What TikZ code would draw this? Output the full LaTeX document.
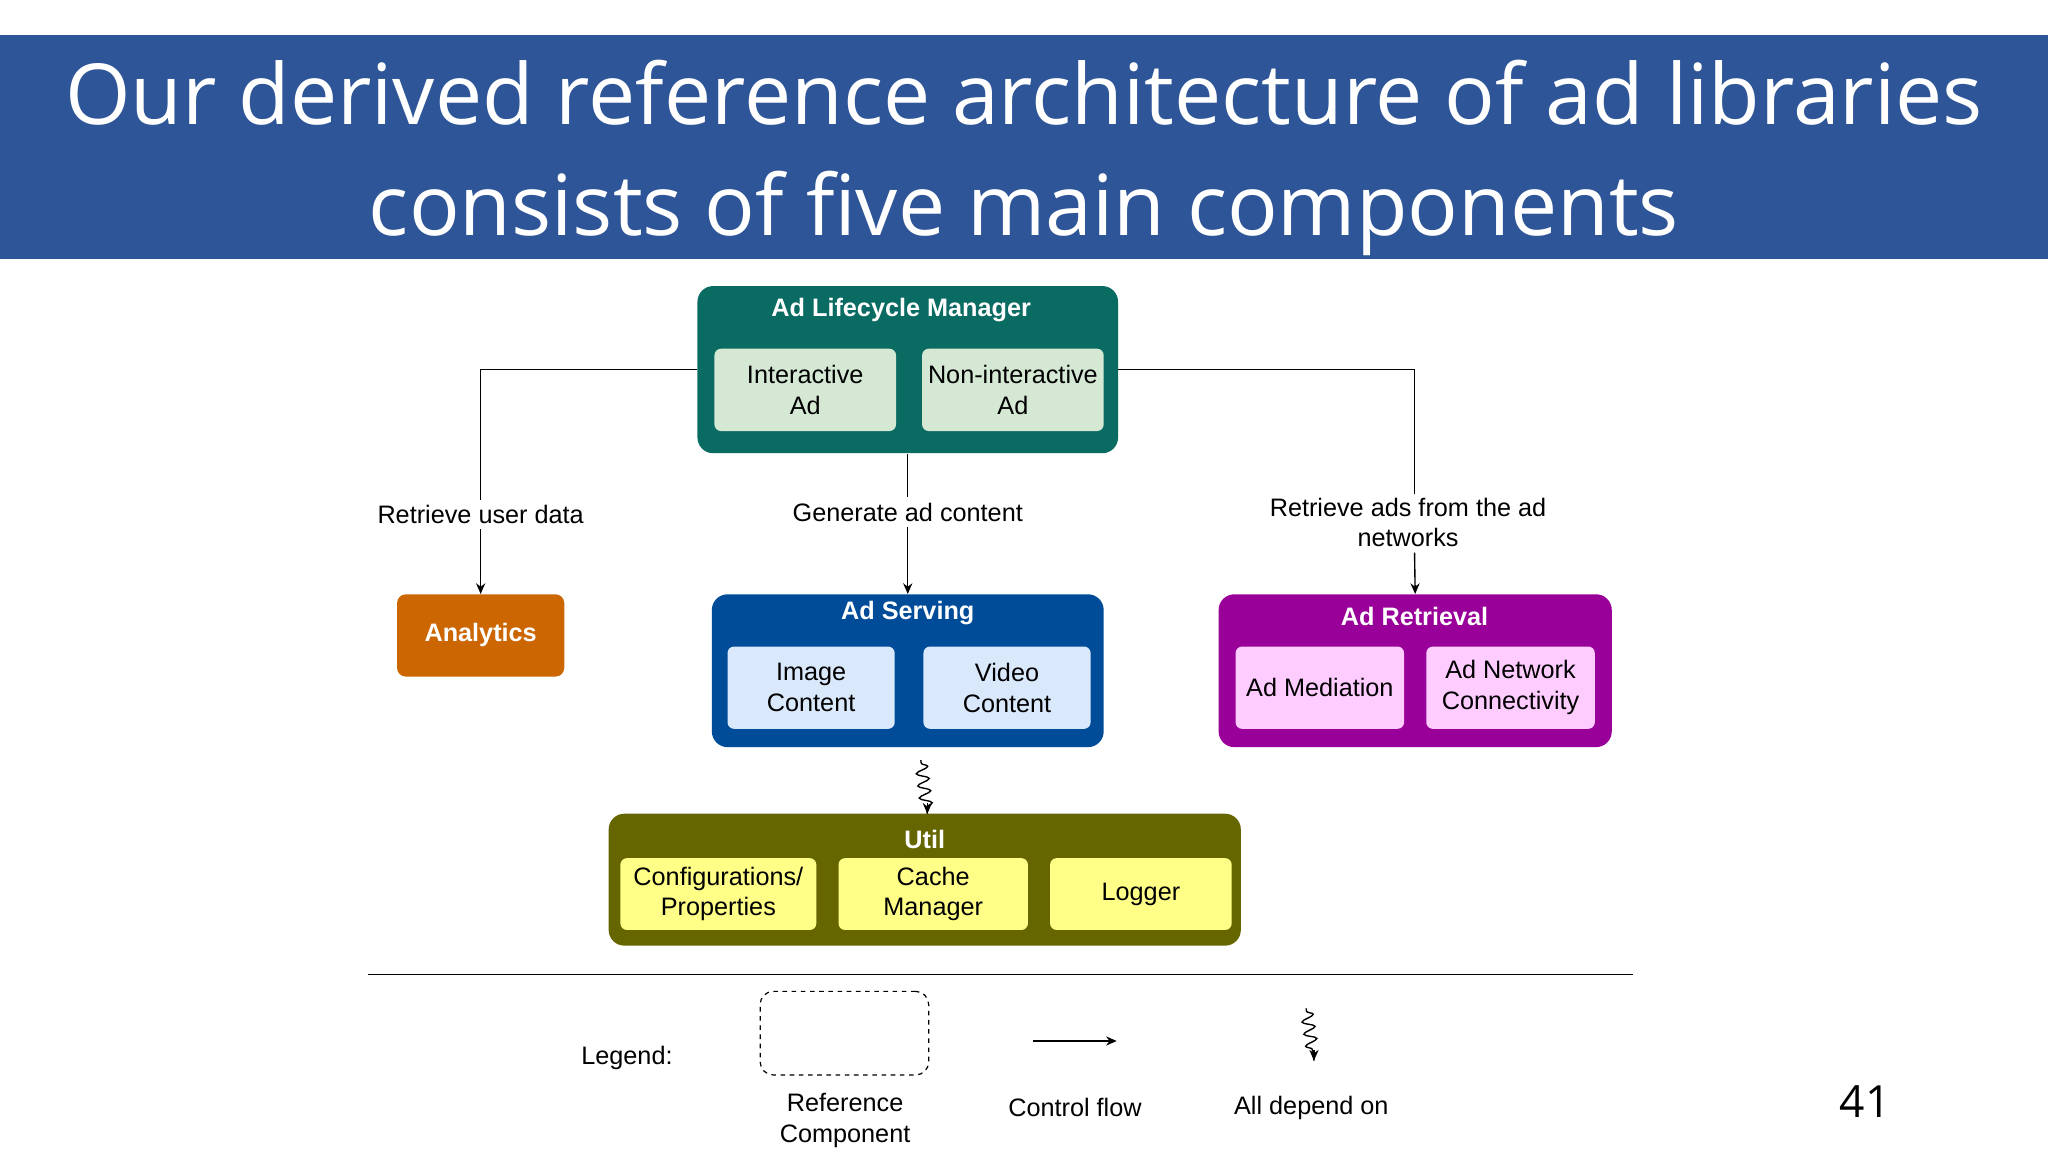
\documentclass[tikz,border=0pt]{standalone}
\usepackage{fontspec}
\setmainfont{Liberation Sans}
\newfontfamily\titlefont{Open Sans}
\usetikzlibrary{decorations.pathmorphing,arrows.meta,calc}
\definecolor{band}{HTML}{2E5597}
\definecolor{almc}{HTML}{0A6B63}
\definecolor{almin}{HTML}{D5E8D4}
\definecolor{anc}{HTML}{CC6600}
\definecolor{asc}{HTML}{004C99}
\definecolor{asin}{HTML}{DAE8FC}
\definecolor{arc}{HTML}{990099}
\definecolor{arin}{HTML}{FFCCFF}
\definecolor{utc}{HTML}{666600}
\definecolor{utin}{HTML}{FFFF88}
\tikzset{
 box/.style={rounded corners=0.36cm,draw=none},
 inner/.style={rounded corners=0.15cm,draw=none,align=center,font=\fontsize{16.5}{20}\selectfont},
 ttl/.style={text=white,font=\bfseries\fontsize{16.5}{20}\selectfont},
 lbl/.style={align=center,font=\fontsize{16.5}{20}\selectfont},
 conn/.style={line width=0.9pt,-{Stealth[length=7pt,width=6pt]}},
 plain/.style={line width=0.9pt},
 wavy/.style={line width=0.9pt,decorate,decoration={snake,amplitude=4pt,segment length=8pt,pre length=2pt,post length=4pt}},
}
\begin{document}
\begin{tikzpicture}[x=0.03cm,y=-0.03cm]
\useasboundingbox (0,0) rectangle (1568,882);
\fill[white] (0,0) rectangle (1568,882);
\fill[band] (0,27) rectangle (1568,198);
\node[text=white,font=\titlefont\fontsize{55}{73}\selectfont,align=center] (title) at (784,121) {Our derived reference architecture of ad libraries\\consists of five main components};
% ALM
\node[box,fill=almc,minimum width=322*0.03cm,minimum height=128*0.03cm] (alm) at (695,283) {};
\node[ttl] (almt) at (690,237) {Ad Lifecycle Manager};
\node[inner,fill=almin,minimum width=139*0.03cm,minimum height=63*0.03cm] (ia) at (616.5,298.5) {Interactive\\Ad};
\node[inner,fill=almin,minimum width=139*0.03cm,minimum height=63*0.03cm] (nia) at (775.5,298.5) {Non-interactive\\Ad};
% Analytics
\node[box,rounded corners=0.2cm,fill=anc,minimum width=128*0.03cm,minimum height=63*0.03cm,ttl] (an) at (368,486.5) {Analytics};
% Ad Serving
\node[box,fill=asc,minimum width=300*0.03cm,minimum height=117*0.03cm] (as) at (695,513.5) {};
\node[ttl] (ast) at (695,469) {Ad Serving};
\node[inner,fill=asin,minimum width=128*0.03cm,minimum height=63*0.03cm] (ic) at (621,526.5) {Image\\Content};
\node[inner,fill=asin,minimum width=128*0.03cm,minimum height=63*0.03cm] (vc) at (771,526.5) {Video\\Content};
% Ad Retrieval
\node[box,fill=arc,minimum width=301*0.03cm,minimum height=117*0.03cm] (ar) at (1083.5,513.5) {};
\node[ttl] (art) at (1083,472) {Ad Retrieval};
\node[inner,fill=arin,minimum width=129*0.03cm,minimum height=63*0.03cm] (am) at (1010.5,526.5) {Ad Mediation};
\node[inner,fill=arin,minimum width=129*0.03cm,minimum height=63*0.03cm] (anc2) at (1156.5,526.5) {Ad Network\\Connectivity};
% Util
\node[box,fill=utc,minimum width=484*0.03cm,minimum height=101*0.03cm] (ut) at (708,673.5) {};
\node[ttl] (utt) at (708,643) {Util};
\node[inner,fill=utin,minimum width=150*0.03cm,minimum height=55*0.03cm] (cp) at (550,684.5) {Configurations/\\Properties};
\node[inner,fill=utin,minimum width=145*0.03cm,minimum height=55*0.03cm] (cm) at (714.5,684.5) {Cache\\Manager};
\node[inner,fill=utin,minimum width=139*0.03cm,minimum height=55*0.03cm] (lg) at (873.5,684.5) {Logger};
% connectors
\node[lbl] (l1) at (368,394) {Retrieve user data};
\node[lbl] (l2) at (695,392) {Generate ad content};
\node[lbl] (l3) at (1078,400) {Retrieve ads from the ad\\networks};
\draw[plain] (alm.west |- 0,283) -- (368,283) -- (l1.north);
\draw[conn] (l1.south) -- (an.north);
\draw[plain] (alm.south) -- (l2.north);
\draw[conn] (l2.south) -- (as.north);
\draw[plain] (alm.east |- 0,283) -- (1083,283) -- (1083,378);
\draw[conn] (1083,423) -- (ar.north);
\coordinate (w1) at (705,582);
\coordinate (w2) at (710,623);
\draw[wavy] (w1) -- (w2);
\draw[conn] ($(w2)+(0,-8)$) -- (w2);
% legend
\draw[line width=0.9pt] (282,746) -- (1250,746);
\node[lbl] (leg) at (480,810) {Legend:};
\node[draw,dashed,rounded corners=0.3cm,line width=0.8pt,minimum width=129*0.03cm,minimum height=64*0.03cm] (rc) at (646.5,791) {};
\node[lbl] (rct) at (647,858) {Reference\\Component};
\coordinate (c1) at (791,797);
\coordinate (c2) at (855,797);
\draw[conn] (c1) -- (c2);
\node[lbl] (cf) at (823,848) {Control flow};
\coordinate (d1) at (1000,772);
\coordinate (d2) at (1006,812);
\draw[wavy] (d1) -- (d2);
\draw[conn] ($(d2)+(0,-8)$) -- (d2);
\node[lbl] (ad) at (1004,848) {All depend on};
\node[font=\titlefont\fontsize{29}{34}\selectfont] (pg) at (1428,843) {41};
\end{tikzpicture}
\end{document}
